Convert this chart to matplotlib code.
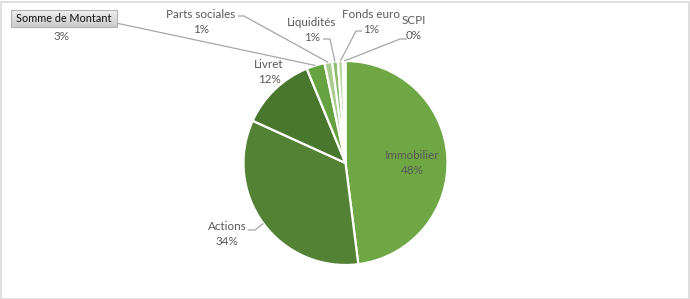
import numpy as np
import matplotlib.pyplot as plt
from matplotlib.patches import Rectangle

# data (share of total, %)
categories = ["Immobilier", "Actions", "Livret", "", "Parts sociales", "Liquidités", "Fonds euro", "SCPI"]
values = [48.0, 33.8, 12.0, 2.9, 1.2, 0.9, 0.8, 0.4]
colors = ["#6ea744", "#538234", "#49772d", "#66a23f", "#a9cd8e", "#8fbd6e", "#bcd9a8", "#d6e8ca"]
field_button = "Somme de Montant"

# layout, in pixels (top-left origin)
W, H = 690, 299
cx, cy, R = 345.5, 163, 102
label_pos = {  # centre of the two-line label
    "Immobilier": (412, 163),
    "Actions": (227, 234),
    "Livret": (269, 72),
    "": (62, 36),
    "Parts sociales": (201, 22),
    "Liquidités": (312, 30),
    "Fonds euro": (371, 22),
    "SCPI": (414, 28),
}
# leader line start points near the labels
leader_start = {
    "Actions": [(248, 230), (255, 230)],
    "": [(116, 23)],
    "Parts sociales": [(238, 16), (244, 16)],
    "Liquidités": [(323, 39), (330, 39)],
    "Fonds euro": [(362, 31), (356, 31)],
    "SCPI": [(407, 39), (400, 39)],
}

plt.rcParams['font.family'] = ['Lato', 'DejaVu Sans']
FS = 8.4

fig = plt.figure(figsize=(W / 100, H / 100), dpi=100)
ax = fig.add_axes([0, 0, 1, 1])
ax.axis("off")


def py(y):
    return H - y


wedges, _ = ax.pie(values, colors=colors, startangle=90, counterclock=False,
                   center=(cx, py(cy)), radius=R, frame=False,
                   wedgeprops=dict(edgecolor="white", linewidth=1.6))

total = sum(values)
txt_col = "#595959"
line_col = "#a6a6a6"
for w, name, v in zip(wedges, categories, values):
    mid = np.deg2rad((w.theta1 + w.theta2) / 2)
    ex, ey = cx + R * np.cos(mid), py(cy) + R * np.sin(mid)
    lx, ly = label_pos[name]
    pct = f"{round(v / total * 100):.0f}%"
    text = pct if name == "" else f"{name}\n{pct}"
    ax.text(lx, py(ly), text, ha="center", va="center", fontsize=FS, color=txt_col,
            linespacing=1.4)
    if name in leader_start:
        pts = leader_start[name]
        xs = [p[0] for p in pts] + [ex]
        ys = [py(p[1]) for p in pts] + [ey]
        ax.plot(xs, ys, color=line_col, lw=0.9, solid_capstyle="butt")

# pivot field button
bx0, bx1, by0, by1 = 11, 117, 10, 27
shade = np.linspace(0.94, 0.80, 20)
grad = np.dstack([shade, shade, shade]).reshape(20, 1, 3)
ax.imshow(grad, extent=(bx0, bx1, py(by1), py(by0)), aspect="auto", zorder=3,
          origin="upper", interpolation="bilinear")
ax.add_patch(Rectangle((bx0, py(by1)), bx1 - bx0, by1 - by0, fill=False,
                       edgecolor="#b4b4b4", lw=0.8, zorder=4))
ax.text((bx0 + bx1) / 2, py((by0 + by1) / 2), field_button, ha="center", va="center",
        fontsize=7.8, color="#111111", zorder=5)
ax.set_xlim(0, W)
ax.set_ylim(0, H)
ax.set_aspect("auto")

# chart border
fig.patches.append(Rectangle((0.5 / W, 0.5 / H), 1 - 1.5 / W, 1 - 2.5 / H, transform=fig.transFigure,
                             fill=False, edgecolor="#d9d9d9", lw=1.2))

fig.savefig("out.png", dpi=100, facecolor="white")
